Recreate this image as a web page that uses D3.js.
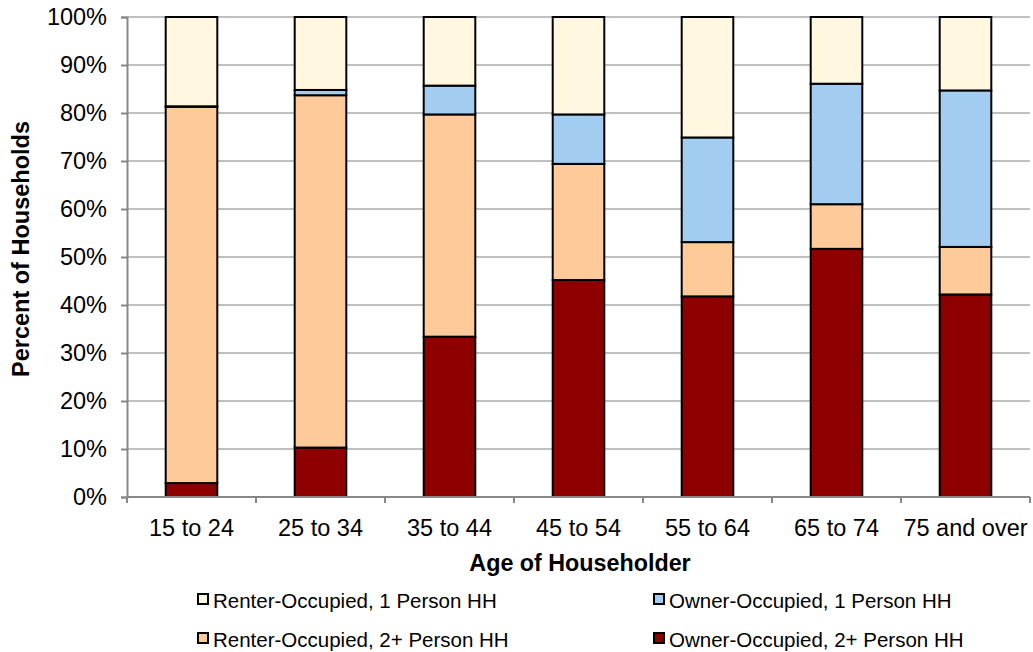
<!DOCTYPE html>
<html>
<head>
<meta charset="utf-8">
<script src="https://cdn.jsdelivr.net/npm/d3@7"></script>
<style>
  body { margin: 0; background: #fff; }
  svg { font-family: "Liberation Sans", Arial, sans-serif; }
</style>
</head>
<body>
<div class="chart"></div>
<script>
// household type by age of householder (percent)
var ageGroups = ["15 to 24", "25 to 34", "35 to 44", "45 to 54", "55 to 64", "65 to 74", "75 and over"];
var owner2 = [2.9, 10.3, 33.4, 45.2, 41.8, 51.7, 42.2];
var renter2 = [78.4, 73.4, 46.3, 24.2, 11.3, 9.3, 9.9];
var owner1 = [0.1, 1.1, 6.0, 10.3, 21.8, 25.1, 32.6];
var renter1 = [18.6, 15.2, 14.3, 20.3, 25.1, 13.9, 15.3];
var yTicks = [0, 10, 20, 30, 40, 50, 60, 70, 80, 90, 100];

var seriesKeys = ["owner2", "renter2", "owner1", "renter1"];
var seriesNames = {
    renter1: "Renter-Occupied, 1 Person HH",
    owner1: "Owner-Occupied, 1 Person HH",
    renter2: "Renter-Occupied, 2+ Person HH",
    owner2: "Owner-Occupied, 2+ Person HH"
};
var colors = { renter1: "#FFF7E0", owner1: "#A3CDF0", renter2: "#FFCA99", owner2: "#8E0000" };

var rows = ageGroups.map(function(a, i) {
    return { age: a, owner2: owner2[i], renter2: renter2[i], owner1: owner1[i], renter1: renter1[i] };
});

var width = 1033, height = 652;
var margin = { top: 17, right: 3, bottom: 155, left: 127 };
var plotW = width - margin.left - margin.right,
    plotH = height - margin.top - margin.bottom;

var svg = d3.select(".chart").append("svg")
    .attr("width", width)
    .attr("height", height);

var g = svg.append("g")
    .attr("transform", "translate(" + margin.left + "," + margin.top + ")");

var x = d3.scaleBand()
    .domain(ageGroups)
    .range([0, plotW])
    .paddingInner(0.6)
    .paddingOuter(0.3);

var y = d3.scaleLinear()
    .domain([0, 100])
    .range([plotH, 0]);

// gridlines
g.selectAll(".grid")
    .data(yTicks.filter(function(d) { return d > 0; }))
    .enter().append("line")
    .attr("x1", 0).attr("x2", plotW)
    .attr("y1", function(d) { return y(d); })
    .attr("y2", function(d) { return y(d); })
    .attr("stroke", "#C0C0C0")
    .attr("stroke-width", 2);

var stacked = d3.stack().keys(seriesKeys)(rows);

g.selectAll(".layer")
    .data(stacked)
    .enter().append("g")
    .attr("fill", function(d) { return colors[d.key]; })
    .selectAll("rect")
    .data(function(d) { return d; })
    .enter().append("rect")
    .attr("x", function(d) { return x(d.data.age); })
    .attr("width", x.bandwidth())
    .attr("y", function(d) { return y(d[1]); })
    .attr("height", function(d) { return y(d[0]) - y(d[1]); })
    .attr("stroke", "#000")
    .attr("stroke-width", 2);

// y axis
var yAxis = d3.axisLeft(y)
    .tickValues(yTicks)
    .tickSize(6)
    .tickPadding(14)
    .tickFormat(function(d) { return d + "%"; });

var yg = g.append("g").call(yAxis);
yg.select(".domain").attr("stroke", "#888").attr("stroke-width", 2);
yg.selectAll(".tick line").attr("stroke", "#888").attr("stroke-width", 2);
yg.selectAll(".tick text").attr("font-size", 23.5).attr("fill", "#000");

// x axis: baseline and ticks between categories
g.append("line")
    .attr("x1", 0).attr("x2", plotW)
    .attr("y1", plotH).attr("y2", plotH)
    .attr("stroke", "#888").attr("stroke-width", 2);

var offset = (x.step() - x.bandwidth()) / 2;
var tickPos = ageGroups.map(function(a) { return x(a) - offset; }).concat([plotW]);
g.selectAll(".xtick")
    .data(tickPos)
    .enter().append("line")
    .attr("x1", function(d) { return d; }).attr("x2", function(d) { return d; })
    .attr("y1", plotH).attr("y2", plotH + 6)
    .attr("stroke", "#888").attr("stroke-width", 2);

g.selectAll(".xlabel")
    .data(ageGroups)
    .enter().append("text")
    .attr("x", function(d) { return x(d) + x.bandwidth() / 2; })
    .attr("y", plotH + 39)
    .attr("text-anchor", "middle")
    .attr("font-size", 23.5)
    .text(function(d) { return d; });

// axis titles
svg.append("text")
    .attr("x", 580)
    .attr("y", 571)
    .attr("text-anchor", "middle")
    .attr("font-size", 23.3)
    .attr("font-weight", "bold")
    .text("Age of Householder");

svg.append("text")
    .attr("transform", "translate(29,249) rotate(-90)")
    .attr("text-anchor", "middle")
    .attr("font-size", 23.5)
    .attr("font-weight", "bold")
    .text("Percent of Households");

// legend
var legendItems = [
    { key: "renter1", col: 0, row: 0 },
    { key: "owner1", col: 1, row: 0 },
    { key: "renter2", col: 0, row: 1 },
    { key: "owner2", col: 1, row: 1 }
];
var legend = svg.selectAll(".legend")
    .data(legendItems)
    .enter().append("g")
    .attr("transform", function(d) {
        return "translate(" + (198 + d.col * 456) + "," + (594 + d.row * 39) + ")";
    });

legend.append("rect")
    .attr("width", 10).attr("height", 10)
    .attr("fill", function(d) { return colors[d.key]; })
    .attr("stroke", "#000")
    .attr("stroke-width", 2);

legend.append("text")
    .attr("x", 15)
    .attr("y", 14)
    .attr("font-size", 20.5)
    .text(function(d) { return seriesNames[d.key]; });
</script>
</body>
</html>
